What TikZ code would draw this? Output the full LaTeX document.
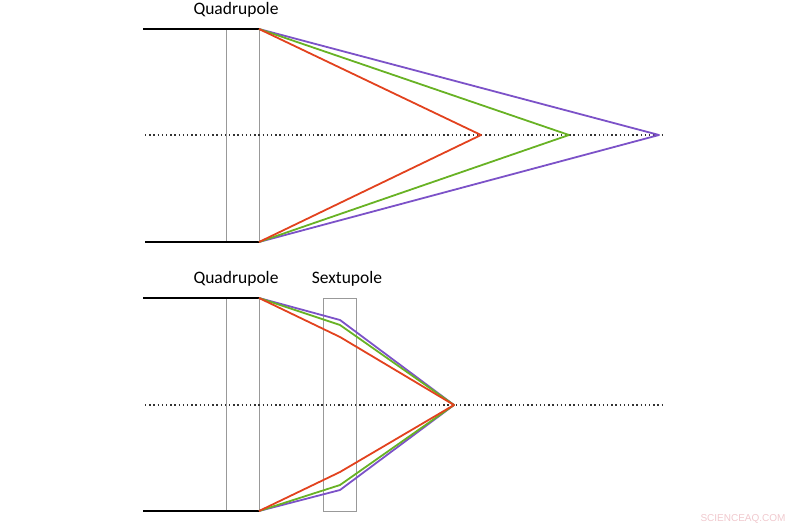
\documentclass[tikz,border=0pt]{standalone}
\usepackage{fontspec}
\setmainfont{Carlito}
\newfontfamily\wmfont{Liberation Sans}
\definecolor{rayred}{RGB}{226,66,30}
\definecolor{raygreen}{RGB}{104,178,36}
\definecolor{raypurple}{RGB}{124,82,200}
\definecolor{wmpink}{RGB}{240,200,205}
\tikzset{
  plate/.style={line width=2pt,black},
  lensbox/.style={draw=gray!80,line width=0.8pt},
  axisline/.style={line width=1.4pt,dash pattern=on 1.4pt off 2.8pt,black!80},
  ray/.style={line width=1.8pt,line join=round},
  lbl/.style={font=\fontsize{17.5}{20}\selectfont,inner sep=0pt}
}
\begin{document}
\begin{tikzpicture}[x=1pt,y=-1pt]
\useasboundingbox (0,0) rectangle (800,530);
% ---------- top panel ----------
\coordinate (t1L) at (143,29);  \coordinate (t1R) at (259,29);
\coordinate (b1L) at (145,242); \coordinate (b1R) at (259,242);
\coordinate (a1L) at (145,135); \coordinate (a1R) at (662,135);
\coordinate (fr1) at (481,135); \coordinate (fg1) at (569,135); \coordinate (fp1) at (659,135);
\draw[lensbox] (226,29) rectangle (259,242);
\draw[axisline] (a1L) -- (a1R);
\draw[plate] (t1L) -- (t1R);
\draw[plate] (b1L) -- (b1R);
\draw[ray,raypurple] (t1R) -- (fp1) -- (b1R);
\draw[ray,raygreen] (t1R) -- (fg1) -- (b1R);
\draw[ray,rayred] (t1R) -- (fr1) -- (b1R);
\node[lbl] (q1) at (236,10) {Quadrupole};
% ---------- bottom panel ----------
\coordinate (t2L) at (143,298); \coordinate (t2R) at (259,298);
\coordinate (b2L) at (143,511); \coordinate (b2R) at (259,511);
\coordinate (a2L) at (145,405); \coordinate (a2R) at (662,405);
\coordinate (f2) at (454,405);
\coordinate (tp) at (340,320); \coordinate (tg) at (340,325); \coordinate (tr) at (340,337);
\coordinate (bp) at (340,490); \coordinate (bg) at (340,485); \coordinate (br) at (340,472);
\draw[lensbox] (226,298) rectangle (259,511);
\draw[lensbox] (323,298) rectangle (356,511);
\draw[axisline] (a2L) -- (a2R);
\draw[plate] (t2L) -- (t2R);
\draw[plate] (b2L) -- (b2R);
\draw[ray,raypurple] (t2R) -- (tp) -- (f2) -- (bp) -- (b2R);
\draw[ray,raygreen] (t2R) -- (tg) -- (f2) -- (bg) -- (b2R);
\draw[ray,rayred] (t2R) -- (tr) -- (f2) -- (br) -- (b2R);
\node[lbl] (q2) at (236,279) {Quadrupole};
\node[lbl] (s2) at (347,279) {Sextupole};
\node[font=\wmfont\fontsize{10}{11}\selectfont,text=wmpink,inner sep=0pt] (wm) at (743,519) {SCIENCEAQ.COM};
\end{tikzpicture}
\end{document}
